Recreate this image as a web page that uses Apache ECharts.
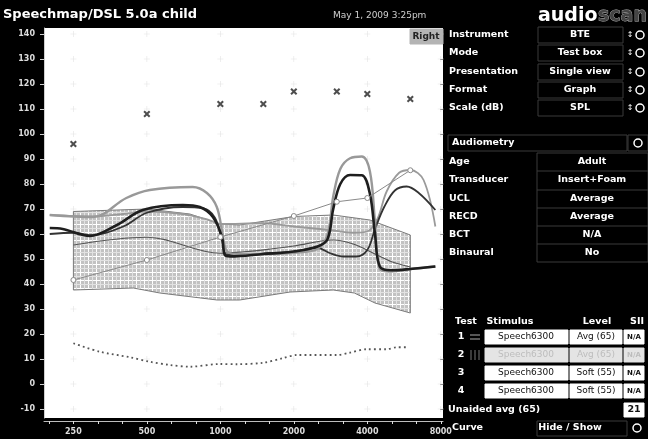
<!DOCTYPE html>
<html><head><meta charset="utf-8">
<script src="https://cdn.jsdelivr.net/npm/echarts@6/dist/echarts.min.js"></script>
<style>html,body{margin:0;padding:0;background:#000}#c{width:648px;height:439px}</style>
</head><body><div id="c"></div>
<script>
// Frequency axis: octaves above 250 Hz
const refHz = 250;
const oct = f => Math.log2(f / refHz);

const xTickLabels = [250, 500, 1000, 2000, 4000, 8000];
const yTickLabels = [-10, 0, 10, 20, 30, 40, 50, 60, 70, 80, 90, 100, 110, 120, 130, 140];

// Predicted UCL (asterisks)
const uclFreq = [250, 500, 1000, 1500, 2000, 3000, 4000, 6000];
const uclLevel = [96, 108, 112, 112, 117, 117, 116, 114];

// Speech region (hatched) and its centre line
const bandUpperFreq = [250, 500, 750, 1000, 1200, 2000, 2900, 4100, 6000];
const bandUpper = [69, 70, 68, 64, 63.6, 67, 67.6, 65.6, 59.6];
const bandLowerFreq = [250, 440, 565, 970, 1200, 1930, 2900, 3540, 4300, 6000];
const bandLower = [37.6, 38.4, 36.4, 33.6, 33.6, 36.8, 37.6, 36.4, 32.4, 28.4];
const bandMidFreq = [250, 500, 1000, 1250, 1600, 2000, 2900, 3500, 4300, 5000, 6000];
const bandMid = [55.6, 58.7, 52.3, 52.9, 54, 55.2, 57.6, 56, 52, 49, 46.8];

// Aided responses
const t1Freq = [200, 226, 292, 377, 481, 702, 824, 932, 1015, 1043, 1100, 1500, 2000, 2500, 2750, 2900, 3100, 3400, 3800, 4100, 4300, 4500, 5000, 6000, 7600];
const t1Level = [62.4, 62, 59.2, 63.6, 69.6, 71.6, 70.8, 66.8, 58.8, 51.6, 51, 52, 53, 55, 58, 70, 80, 83.6, 83.5, 76, 60, 47, 45.5, 46, 47];
const t2Freq = [200, 301, 412, 514, 770, 881, 967, 1020, 1057, 1150, 1500, 2000, 2500, 2750, 2900, 3100, 3400, 3800, 4100, 4300, 4500, 5000, 6000, 7600];
const t2Level = [67.6, 66.8, 74.4, 77.6, 78.8, 76.4, 70.8, 60.4, 53.6, 52, 52, 52.5, 54, 60, 75, 86, 90.3, 91, 85, 65, 46, 45, 46, 47];
const t3Freq = [200, 250, 300, 400, 500, 700, 850, 950, 1020, 1060, 1250, 1600, 2000, 2500, 2800, 3200, 3600, 4000, 4300, 4700, 5200, 5800, 6500, 7600];
const t3Level = [60, 60.5, 59.5, 63, 68.5, 70.8, 70.3, 66.5, 57, 51.6, 51.6, 52.4, 52.9, 54.5, 52.4, 51, 51, 53.6, 62, 71, 77.5, 79, 76.4, 69.6];
const t4Freq = [200, 300, 400, 500, 700, 900, 1000, 1500, 2000, 2800, 3500, 4000, 4400, 4800, 5400, 6000, 6800, 7600];
const t4Level = [67.6, 67, 68, 69, 68, 65.6, 64, 64.3, 63, 61.6, 60.5, 61, 66, 77, 84.5, 85.6, 81.6, 63];

// Unaided response (circles)
const unaidedFreq = [250, 500, 1000, 2000, 3000, 4000, 6000];
const unaidedLevel = [41.6, 49.6, 58.8, 67.2, 72.9, 74.4, 85.5];

// Thresholds (dotted)
const threshFreq = [250, 321, 426, 514, 621, 750, 995, 1166, 1495, 1800, 2056, 3000, 3380, 3980, 4800, 5280, 5850];
const threshLevel = [16.3, 12.9, 10.7, 8.9, 7.6, 6.9, 8, 7.9, 8.5, 10.3, 11.6, 11.6, 12.5, 13.9, 13.9, 14.7, 14.7];

const pairs = (fs, ls) => fs.map((f, i) => [oct(f), ls[i]]);

// hatch pattern for the speech region
const hatch = document.createElement('canvas');
hatch.width = 8; hatch.height = 8;
(function () {
  const g = hatch.getContext('2d');
  g.fillStyle = '#c2c2c2'; g.fillRect(0, 0, 8, 8);
  g.fillStyle = '#ffffff'; g.fillRect(0, 0, 8, 1); g.fillRect(0, 0, 1, 8);
  g.fillStyle = '#e2e2e2'; g.fillRect(0, 4, 8, 1); g.fillRect(4, 0, 1, 8);
})();

const thirdOctaves = [];
for (let k = -1; k <= 15; k++) thirdOctaves.push(k / 3);

const gridMarks = [];
xTickLabels.forEach(f => yTickLabels.forEach(v => gridMarks.push([oct(f), v])));

const UI = 'DejaVu Sans';
const gfx = [];
function txt(x, y, s, o = {}) {
  gfx.push({ type: 'text', x, y, silent: true, z: 10, style: {
    text: s, fill: o.fill || '#fff', font: o.font || ('bold 9.5px ' + UI),
    textAlign: o.align || 'left', textVerticalAlign: 'middle',
    stroke: o.stroke, lineWidth: o.lw } });
}
function box(x, y, w, h, o = {}) {
  gfx.push({ type: 'rect', silent: true, z: 9, shape: { x, y, width: w, height: h },
    style: { fill: o.fill || 'none', stroke: o.stroke || '#3a3a3a', lineWidth: o.lw || 1 } });
}
function ring(cx, cy) {
  gfx.push({ type: 'circle', silent: true, z: 10, shape: { cx, cy, r: 4 },
    style: { fill: 'none', stroke: '#fff', lineWidth: 1.5 } });
}

// header
txt(3, 15, 'Speechmap/DSL 5.0a child', { font: 'bold 13px ' + UI });
txt(333, 16, 'May 1, 2009 3:25pm', { font: '9px ' + UI, fill: '#cfcfcf' });
txt(538, 16, 'audio', { font: 'bold 19px ' + UI });
txt(598, 16, 'scan', { font: 'bold 19px ' + UI, fill: '#444', stroke: '#bbb', lw: 0.8 });
box(410, 29, 33, 15, { fill: '#b4b4b4', stroke: '#b4b4b4' });
txt(426, 37, 'Right', { font: 'bold 9px ' + UI, fill: '#222', align: 'center' });

// settings block
const setNames = ['Instrument', 'Mode', 'Presentation', 'Format', 'Scale (dB)'];
const setVals = ['BTE', 'Test box', 'Single view', 'Graph', 'SPL'];
const setY = [35, 53, 72, 90, 108];
setNames.forEach((n, i) => {
  txt(449, setY[i], n);
  box(538, setY[i] - 8, 85, 16);
  txt(580, setY[i], setVals[i], { align: 'center' });
  txt(630, setY[i], '\u2195', { font: '8px ' + UI, align: 'center' });
  ring(640, setY[i]);
});

// audiometry block
box(448, 135, 179, 16);
txt(452, 143, 'Audiometry');
box(628, 135, 20, 16);
ring(638, 143);
const audNames = ['Age', 'Transducer', 'UCL', 'RECD', 'BCT', 'Binaural'];
const audVals = ['Adult', 'Insert+Foam', 'Average', 'Average', 'N/A', 'No'];
const audY = [162, 180, 199, 217, 235, 253];
box(537, 153, 111, 109);
audNames.forEach((n, i) => {
  txt(449, audY[i], n);
  txt(592, audY[i], audVals[i], { align: 'center' });
  if (i > 0) gfx.push({ type: 'line', silent: true, z: 9, shape: { x1: 537, y1: audY[i] - 9, x2: 648, y2: audY[i] - 9 }, style: { stroke: '#3a3a3a', lineWidth: 1 } });
});

// test table
txt(455, 322, 'Test');
txt(510, 322, 'Stimulus', { align: 'center' });
txt(597, 322, 'Level', { align: 'center' });
txt(637, 322, 'SII', { align: 'center' });
const testLevels = ['Avg (65)', 'Avg (65)', 'Soft (55)', 'Soft (55)'];
const testY = [337, 355, 373, 391];
testLevels.forEach((lv, i) => {
  const dim = i === 1;
  const fill = dim ? '#e4e4e4' : '#fff';
  const tc = dim ? '#bdbdbd' : '#111';
  txt(461, testY[i], String(i + 1), { align: 'center' });
  box(485, testY[i] - 7, 83, 14, { fill, stroke: fill });
  txt(526, testY[i], 'Speech6300', { align: 'center', fill: tc, font: '9px ' + UI });
  box(570, testY[i] - 7, 52, 14, { fill, stroke: fill });
  txt(596, testY[i], lv, { align: 'center', fill: tc, font: '9px ' + UI });
  box(624, testY[i] - 7, 20, 14, { fill, stroke: fill });
  txt(634, testY[i], 'N/A', { align: 'center', fill: tc, font: 'bold 7px ' + UI });
});
gfx.push({ type: 'line', silent: true, z: 10, shape: { x1: 470, y1: 335, x2: 480, y2: 335 }, style: { stroke: '#aaa', lineWidth: 1 } });
gfx.push({ type: 'line', silent: true, z: 10, shape: { x1: 470, y1: 339, x2: 480, y2: 339 }, style: { stroke: '#aaa', lineWidth: 1 } });
[471, 475, 479].forEach(x => gfx.push({ type: 'line', silent: true, z: 10, shape: { x1: x, y1: 350, x2: x, y2: 360 }, style: { stroke: '#777', lineWidth: 1 } }));

txt(448, 410, 'Unaided avg (65)');
box(624, 403, 20, 14, { fill: '#fff', stroke: '#fff' });
txt(634, 410, '21', { align: 'center', fill: '#111' });
txt(452, 428, 'Curve');
box(537, 421, 90, 15);
txt(570, 428, 'Hide / Show', { align: 'center' });
ring(637, 428);

const curve = (data, color, width, z) => ({
  type: 'line', data, smooth: 0.35, showSymbol: false, silent: true,
  lineStyle: { color, width }, z: z || 4
});

const option = {
  backgroundColor: '#000',
  animation: false,
  grid: { left: 44, top: 28, width: 399, height: 390, show: true, backgroundColor: '#fff', borderWidth: 0 },
  xAxis: {
    type: 'value', min: -0.4, max: 5.03, offset: 3,
    axisLine: { show: true, onZero: false, lineStyle: { color: '#bdbdbd', width: 1 } },
    axisTick: { show: true, length: 3, customValues: thirdOctaves, lineStyle: { color: '#ddd' } },
    axisLabel: { customValues: xTickLabels.map(oct), formatter: v => String(Math.round(refHz * Math.pow(2, v))),
      color: '#ddd', fontSize: 8, fontWeight: 'bold', fontFamily: UI, margin: 7 },
    splitLine: { show: false }
  },
  yAxis: [{
    type: 'value', min: -13.6, max: 142.4,
    axisLine: { show: true, onZero: false, lineStyle: { color: '#cfcfcf', width: 1 } },
    axisTick: { show: true, length: 4, customValues: yTickLabels, lineStyle: { color: '#cfcfcf' } },
    axisLabel: { customValues: yTickLabels, color: '#ddd', fontSize: 8, fontWeight: 'bold', fontFamily: UI, margin: 9 },
    splitLine: { show: false }
  }, {
    type: 'value', min: -13.6, max: 142.4, position: 'right',
    axisLine: { show: false, onZero: false },
    axisTick: { show: true, inside: true, length: 3, customValues: yTickLabels, lineStyle: { color: '#777' } },
    axisLabel: { show: false }, splitLine: { show: false }
  }],
  graphic: gfx,
  series: [
    { type: 'scatter', data: gridMarks, silent: true, z: 1,
      symbol: 'path://M0,4.5h10v1h-10z M4.5,0h1v10h-1z', symbolSize: 6,
      itemStyle: { color: '#dcdcdc' } },
    { type: 'custom', silent: true, z: 2, data: [[0, 0]],
      renderItem: (params, api) => {
        const pts = [];
        bandUpperFreq.forEach((f, i) => pts.push(api.coord([oct(f), bandUpper[i]])));
        for (let i = bandLowerFreq.length - 1; i >= 0; i--) pts.push(api.coord([oct(bandLowerFreq[i]), bandLower[i]]));
        return { type: 'polygon', shape: { points: pts },
          style: { fill: { image: hatch, repeat: 'repeat' }, stroke: '#7a7a7a', lineWidth: 1 } };
      } },
    curve(pairs(bandMidFreq, bandMid), '#555', 1.2, 3),
    { type: 'line', data: pairs(threshFreq, threshLevel), smooth: 0.3, showSymbol: false, silent: true,
      lineStyle: { color: '#555', width: 1.8, type: [1.8, 3.2] }, z: 3 },
    curve(pairs(t4Freq, t4Level), '#9a9a9a', 1.8),
    curve(pairs(t3Freq, t3Level), '#333', 1.8),
    curve(pairs(t2Freq, t2Level), '#999', 2.4),
    curve(pairs(t1Freq, t1Level), '#1e1e1e', 2.6),
    { type: 'line', data: pairs(unaidedFreq, unaidedLevel), silent: true, z: 5,
      symbol: 'circle', symbolSize: 5, showSymbol: true,
      lineStyle: { color: '#8a8a8a', width: 1 },
      itemStyle: { color: '#fff', borderColor: '#8a8a8a', borderWidth: 1 } },
    { type: 'scatter', data: pairs(uclFreq, uclLevel), silent: true, z: 6,
      symbol: 'path://M2,0L5,3L8,0L10,2L7,5L10,8L8,10L5,7L2,10L0,8L3,5L0,2Z', symbolSize: 7,
      itemStyle: { color: '#222' } }
  ]
};

echarts.init(document.getElementById('c'), null, { renderer: 'canvas' }).setOption(option);
</script></body></html>
